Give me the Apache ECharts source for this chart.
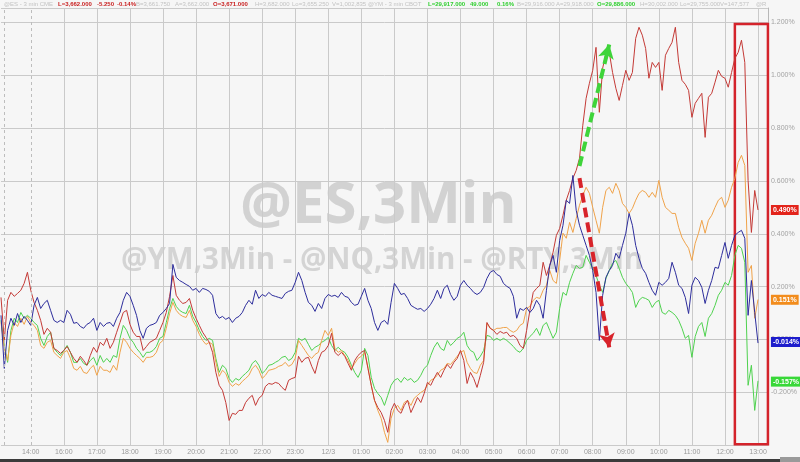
<!DOCTYPE html>
<html><head><meta charset="utf-8">
<script src="https://cdn.jsdelivr.net/npm/echarts@6/dist/echarts.min.js"></script>
<style>html,body{margin:0;padding:0;background:#f6f6f6}#c{width:800px;height:462px}</style>
</head><body><div id="c"></div>
<script>
// hour tick labels (one every 10 steps, starting at step 9)
const tickLabels = ['14:00','16:00','17:00','18:00','19:00','20:00','21:00','22:00','23:00','12/3','01:00','02:00','03:00','04:00','05:00','06:00','07:00','08:00','09:00','10:00','11:00','12:00','13:00'];
const stepCount = 233;
const firstTickStep = 9;
const stepsPerHour = 10;

// header quote strip: [x, text, kind]
const headerItems = [
  [4, '@ES - 3 min CME', 'g'], [58, 'L=3,662.000', 'r'], [97, '-5.250', 'r'], [117, '-0.14%', 'r'],
  [136, 'B=3,661.750', 'g'], [175, 'A=3,662.000', 'g'], [213, 'O=3,671.000', 'r'], [255, 'H=3,682.000', 'g'],
  [292, 'Lo=3,655.250', 'g'], [332, 'V=1,002,835', 'g'], [368, '@YM - 3 min CBOT', 'g'],
  [428, 'L=29,917.000', 'n'], [470, '49.000', 'n'], [497, '0.16%', 'n'], [517, 'B=29,916.000', 'g'],
  [556, 'A=29,918.000', 'g'], [597, 'O=29,886.000', 'n'], [640, 'H=30,002.000', 'g'],
  [680, 'Lo=29,755.000', 'g'], [720, 'V=147,577', 'g'], [756, '@R', 'g']
];

// % change series (6-minute steps)
const redValues = [0.159,-0.004,0.148,0.178,0.163,0.174,0.186,0.212,0.254,0.186,
0.140,0.110,0.072,0.019,0.042,0.027,-0.034,-0.042,-0.053,-0.042,
-0.027,-0.049,-0.072,-0.087,-0.064,-0.080,-0.098,-0.061,-0.030,-0.049,
-0.011,-0.023,0.004,-0.034,-0.011,0.027,0.064,0.102,0.110,0.057,
0.027,0.011,0.011,-0.042,-0.027,-0.011,-0.004,0.004,0.034,0.064,
0.102,0.163,0.242,0.167,0.148,0.136,0.140,0.155,0.110,0.080,
0.053,0.027,0.008,-0.011,-0.049,-0.125,-0.174,-0.193,-0.239,-0.307,
-0.280,-0.284,-0.269,-0.269,-0.239,-0.223,-0.212,-0.250,-0.223,-0.212,
-0.178,-0.167,-0.170,-0.163,-0.167,-0.182,-0.193,-0.155,-0.148,-0.144,
-0.064,-0.087,-0.072,-0.068,-0.102,-0.129,-0.080,-0.049,-0.042,-0.023,
0.023,-0.049,-0.061,-0.049,-0.064,-0.091,-0.117,-0.080,-0.061,-0.049,
-0.042,-0.110,-0.174,-0.231,-0.258,-0.277,-0.307,-0.352,-0.269,-0.242,
-0.269,-0.280,-0.250,-0.231,-0.277,-0.250,-0.220,-0.239,-0.205,-0.163,
-0.174,-0.148,-0.125,-0.144,-0.117,-0.095,-0.110,-0.087,-0.072,-0.042,
-0.080,-0.167,-0.125,-0.148,-0.182,-0.136,-0.087,0.064,0.042,0.034,
0.019,0.030,0.023,0.027,0.011,0.015,0.004,-0.023,-0.034,0.034,
0.110,0.178,0.193,0.205,0.292,0.242,0.280,0.330,0.394,0.420,
0.470,0.527,0.564,0.610,0.640,0.686,0.811,0.913,0.970,1.019,
1.106,0.860,1.027,1.083,1.087,1.011,0.951,0.905,0.962,1.019,
0.981,1.011,1.140,1.182,1.152,1.102,0.989,1.049,1.030,1.049,
0.943,1.076,1.102,1.125,1.182,1.049,0.981,0.966,0.943,0.841,
0.894,0.913,0.932,0.765,0.917,0.932,0.974,1.019,0.996,0.989,
0.955,1.011,1.064,1.087,1.133,1.049,0.602,0.405,0.564,0.490];

const blueValues = [0.091,-0.110,0.034,0.080,0.053,0.098,0.064,0.087,0.072,0.053,
0.129,0.159,0.117,0.136,0.148,0.110,0.072,0.064,0.072,0.064,
0.110,0.095,0.061,0.064,0.049,0.042,0.057,0.064,0.080,0.034,
0.064,0.049,0.061,0.064,0.049,0.080,0.102,0.148,0.178,0.163,
0.129,0.091,0.034,0.004,0.042,0.053,0.057,0.064,0.091,0.102,
0.117,0.136,0.284,0.235,0.223,0.216,0.208,0.201,0.186,0.193,
0.178,0.193,0.189,0.182,0.167,0.098,0.080,0.087,0.076,0.083,
0.064,0.080,0.087,0.102,0.129,0.148,0.133,0.186,0.155,0.170,
0.163,0.178,0.167,0.163,0.159,0.155,0.174,0.182,0.186,0.216,
0.254,0.223,0.178,0.140,0.129,0.106,0.136,0.117,0.155,0.170,
0.163,0.167,0.159,0.178,0.163,0.159,0.140,0.129,0.133,0.163,
0.193,0.148,0.117,0.064,0.034,0.064,0.072,0.057,0.140,0.212,
0.193,0.170,0.174,0.155,0.129,0.121,0.114,0.117,0.106,0.117,
0.133,0.155,0.186,0.155,0.193,0.205,0.170,0.148,0.163,0.205,
0.223,0.205,0.193,0.178,0.170,0.178,0.197,0.231,0.254,0.261,
0.246,0.239,0.212,0.201,0.193,0.163,0.080,0.117,0.110,0.121,
0.102,0.117,0.148,0.129,0.080,0.186,0.280,0.318,0.254,0.375,
0.432,0.527,0.515,0.621,0.489,0.432,0.394,0.356,0.318,0.261,
0.178,-0.004,0.167,0.235,0.261,0.280,0.326,0.307,0.356,0.402,
0.477,0.432,0.356,0.307,0.269,0.250,0.216,0.186,0.167,0.216,
0.205,0.216,0.231,0.292,0.254,0.205,0.193,0.159,0.098,0.205,
0.235,0.223,0.197,0.136,0.186,0.223,0.273,0.269,0.318,0.367,
0.307,0.356,0.394,0.405,0.413,0.383,0.091,0.223,0.102,-0.014];

const greenValues = [0.072,-0.023,-0.087,0.034,0.080,0.064,0.102,0.080,0.091,0.080,
0.064,0.053,0.004,-0.023,0.011,0.027,-0.034,-0.049,-0.061,-0.042,
-0.023,-0.049,-0.087,-0.087,-0.072,-0.091,-0.098,-0.080,-0.068,-0.098,
-0.061,-0.087,-0.072,-0.087,-0.061,-0.068,0.004,0.053,0.034,0.004,
-0.011,-0.034,-0.049,-0.068,-0.049,-0.049,-0.042,-0.027,0.004,0.011,
0.064,0.117,0.155,0.125,0.110,0.102,0.098,0.129,0.087,0.064,
0.034,0.011,-0.004,0.004,-0.004,-0.072,-0.125,-0.098,-0.110,-0.148,
-0.163,-0.148,-0.155,-0.140,-0.129,-0.117,-0.091,-0.080,-0.098,-0.129,
-0.117,-0.098,-0.095,-0.087,-0.080,-0.068,-0.064,-0.080,-0.072,-0.049,
0.004,-0.004,0.004,-0.019,-0.042,-0.030,-0.023,-0.011,-0.004,0.008,
-0.023,-0.042,-0.030,-0.042,-0.049,-0.068,-0.098,-0.125,-0.144,-0.117,
-0.034,-0.061,-0.144,-0.186,-0.205,-0.220,-0.250,-0.212,-0.174,-0.155,
-0.148,-0.163,-0.144,-0.155,-0.148,-0.163,-0.155,-0.136,-0.110,-0.098,
-0.061,-0.030,-0.011,-0.034,-0.042,-0.004,-0.023,-0.011,0.004,0.011,
0.027,-0.023,-0.042,-0.049,-0.080,-0.064,-0.042,0.015,0.011,-0.004,
0.004,-0.004,0.004,-0.004,-0.015,-0.027,-0.042,-0.049,-0.034,-0.004,
0.011,0.023,0.042,0.015,0.053,0.064,0.034,0.004,0.027,0.117,
0.178,0.167,0.216,0.250,0.280,0.269,0.273,0.318,0.292,0.269,
0.242,0.205,0.178,0.231,0.261,0.288,0.299,0.269,0.235,0.212,
0.197,0.178,0.121,0.148,0.159,0.155,0.148,0.121,0.140,0.148,
0.102,0.095,0.110,0.102,0.091,0.072,0.042,0.004,0.015,-0.068,
0.011,0.049,0.064,0.011,0.080,0.098,0.129,0.167,0.186,0.216,
0.205,0.242,0.318,0.356,0.345,0.292,-0.174,-0.098,-0.269,-0.157];

const orangeValues = [0.064,-0.034,-0.080,0.015,0.064,0.049,0.080,0.057,0.087,0.064,
0.053,0.034,-0.023,-0.034,-0.011,-0.004,-0.049,-0.061,-0.072,-0.049,
-0.042,-0.072,-0.110,-0.117,-0.102,-0.125,-0.129,-0.110,-0.098,-0.136,
-0.102,-0.117,-0.117,-0.125,-0.098,-0.117,-0.049,0.004,-0.011,-0.034,
-0.049,-0.061,-0.072,-0.087,-0.068,-0.068,-0.064,-0.049,-0.015,-0.004,
0.042,0.098,0.140,0.110,0.095,0.087,0.083,0.110,0.072,0.049,
0.019,-0.004,-0.019,-0.011,-0.019,-0.087,-0.140,-0.117,-0.129,-0.163,
-0.178,-0.167,-0.174,-0.159,-0.148,-0.136,-0.110,-0.098,-0.117,-0.148,
-0.136,-0.117,-0.114,-0.110,-0.102,-0.098,-0.087,-0.102,-0.095,-0.072,
-0.004,-0.023,-0.042,-0.061,-0.072,-0.057,-0.049,-0.004,0.034,0.015,
0.042,-0.034,-0.049,-0.042,-0.061,-0.080,-0.110,-0.091,-0.072,-0.064,
-0.049,-0.106,-0.174,-0.231,-0.269,-0.299,-0.352,-0.390,-0.299,-0.261,
-0.250,-0.269,-0.239,-0.231,-0.250,-0.223,-0.212,-0.201,-0.193,-0.174,
-0.155,-0.148,-0.136,-0.117,-0.110,-0.091,-0.095,-0.080,-0.064,-0.049,
-0.042,-0.087,-0.110,-0.125,-0.129,-0.098,-0.080,0.061,0.042,0.034,
0.042,0.042,0.045,0.045,0.034,0.027,0.034,0.053,0.061,0.117,
0.125,0.148,0.159,0.155,0.186,0.205,0.261,0.223,0.212,0.299,
0.402,0.383,0.443,0.405,0.458,0.508,0.545,0.576,0.553,0.500,
0.451,0.402,0.500,0.564,0.576,0.553,0.591,0.564,0.515,0.500,
0.477,0.496,0.527,0.553,0.564,0.557,0.538,0.557,0.538,0.602,
0.538,0.500,0.489,0.477,0.477,0.424,0.386,0.364,0.345,0.299,
0.364,0.402,0.451,0.402,0.451,0.470,0.500,0.527,0.538,0.500,
0.527,0.576,0.610,0.670,0.697,0.659,0.254,0.280,0.080,0.151];

// annotation anchors in data coordinates [step, %]
const greenArrow = [[174.7, 0.657], [183.8, 1.117]];
const redArrow = [[174.7, 0.611], [184.4, -0.03]];
const boxArea = [[222.1, 1.194], [231.7, -0.397]];

const categories = [];
for (let i = 0; i < stepCount; i++) {
  const k = (i - firstTickStep) / stepsPerHour;
  categories.push(Number.isInteger(k) && k >= 0 && k < tickLabels.length ? tickLabels[k] : 's' + i);
}
const isHour = (idx) => idx >= firstTickStep && (idx - firstTickStep) % stepsPerHour === 0 && idx <= firstTickStep + stepsPerHour * (tickLabels.length - 1);

const FONT = 'Liberation Sans';
const last = (a) => a[a.length - 1];
const pct = (v) => v.toFixed(3) + '%';
function valueTag(v, bg) {
  return {yAxis: v, symbol: 'none', lineStyle: {color: 'rgba(0,0,0,0)', width: 0},
    label: {show: true, position: 'end', distance: 3, formatter: pct(v), backgroundColor: bg, color: '#fff',
      fontSize: 7, fontWeight: 'bold', fontFamily: FONT, padding: [2, 2, 1, 2]}};
}
function lineSeries(name, data, color) {
  return {name, type: 'line', data, showSymbol: false, symbol: 'none', animation: false,
    lineStyle: {color, width: 1}, itemStyle: {color}, silent: true};
}

const chart = echarts.init(document.getElementById('c'), null, {renderer: 'canvas'});
const sGreen = lineSeries('green', greenValues, '#4fd24f');
const sOrange = lineSeries('orange', orangeValues, '#f0a34a');
const sRed = lineSeries('red', redValues, '#c43a36');
const sBlue = lineSeries('blue', blueValues, '#2d2d9c');
sRed.markArea = {silent: true, itemStyle: {color: 'rgba(0,0,0,0)', borderColor: '#d4232b', borderWidth: 2.5},
  data: [[{coord: boxArea[0]}, {coord: boxArea[1]}]]};
sBlue.markLine = {silent: true, symbol: ['none', 'none'], animation: false,
  label: {show: false},
  data: [
    valueTag(last(redValues), '#e3241b'),
    valueTag(last(orangeValues), '#f28c1c'),
    valueTag(last(blueValues), '#1d1dcc'),
    valueTag(last(greenValues), '#38d838'),
    {xAxis: 1, symbol: 'none', label: {show: false}, lineStyle: {color: '#bdbdbd', type: [3, 3], width: 1}},
    {xAxis: firstTickStep, symbol: 'none', label: {show: false}, lineStyle: {color: '#bdbdbd', type: [3, 3], width: 1}},
    [{coord: greenArrow[0], symbol: 'none', lineStyle: {color: '#3fd43a', width: 4, type: [10, 5]}, label: {show: false}},
     {coord: greenArrow[1], symbol: 'arrow', symbolSize: [12, 14]}],
    [{coord: redArrow[0], symbol: 'none', lineStyle: {color: '#d8232a', width: 4, type: [10, 5]}, label: {show: false}},
     {coord: redArrow[1], symbol: 'arrow', symbolSize: [12, 14]}]
  ]};

const headerColors = {g: '#c3c3c3', r: '#c81e1e', n: '#2fcf2f'};
const headerGraphics = headerItems.map(([x, text, kind]) => ({
  type: 'text', left: x, top: 1, z: 10, silent: true,
  style: {text, fill: headerColors[kind], font: (kind === 'g' ? '' : 'bold ') + '6px "' + FONT + '"'}
}));

chart.setOption({
  backgroundColor: '#f6f6f6',
  animation: false,
  grid: {left: 1, right: 30, top: 8, bottom: 17},
  xAxis: {type: 'category', data: categories, boundaryGap: false,
    axisLine: {show: true, lineStyle: {color: '#c4c4c4'}},
    axisTick: {show: false},
    axisLabel: {interval: (i) => isHour(i), fontSize: 7, color: '#9a9a9a', margin: 4, fontFamily: FONT},
    splitLine: {show: true, interval: (i) => isHour(i) && i !== firstTickStep, lineStyle: {color: '#cacaca', width: 1}}},
  yAxis: {type: 'value', position: 'right', min: -0.4, max: 1.255, interval: 0.2,
    axisLine: {show: true, lineStyle: {color: '#b8b8b8'}},
    axisTick: {show: false},
    splitLine: {show: true, lineStyle: {color: '#cacaca', width: 1}},
    axisLabel: {fontSize: 7, color: '#a3a3a3', margin: 3, fontFamily: FONT, showMinLabel: false, showMaxLabel: false,
      formatter: (v) => (v < -0.3 || v > 1.21) ? '' : pct(v)}},
  graphic: [
    {type: 'text', left: 240, top: 177, z: -10, silent: true,
      style: {text: '@ES,3Min', fill: '#d2d2d2', font: 'bold 58px "Open Sans"'}},
    {type: 'text', left: 121, top: 246, z: -10, silent: true,
      style: {text: '@YM,3Min - @NQ,3Min - @RTY,3Min', fill: '#d4d4d4', font: 'bold 29.5px "Open Sans"'}},
    ...headerGraphics,
    {type: 'rect', left: 0, top: 459, z: 10, silent: true, shape: {width: 780, height: 3}, style: {fill: '#3b3b3b'}},
    {type: 'rect', left: 780, top: 457, z: 10, silent: true, shape: {width: 20, height: 5}, style: {fill: '#9a9a9a'}}
  ],
  series: [sGreen, sOrange, sRed, sBlue]
});
</script>
</body></html>
